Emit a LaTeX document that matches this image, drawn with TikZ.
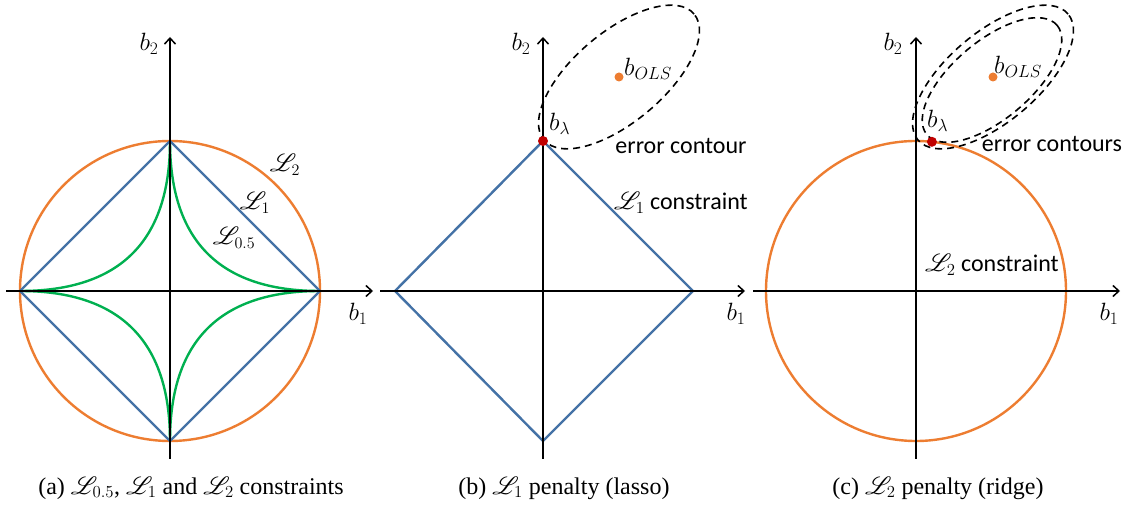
\RequirePackage{fix-cm}
\documentclass[tikz,border=0pt]{standalone}
\usepackage{fontspec}
\setmainfont{Liberation Serif}
\newfontfamily\calib{Carlito}
\usepackage{mathrsfs}
\usetikzlibrary{arrows.meta}
\definecolor{lblue}{RGB}{68,114,166}
\definecolor{lorange}{RGB}{237,125,49}
\definecolor{lgreen}{RGB}{0,176,80}
\definecolor{ldred}{RGB}{192,0,0}
\tikzset{
  axisline/.style={line width=1.7pt, -{Straight Barb[length=6pt,width=11pt,line width=1.5pt]}},
  blueline/.style={draw=lblue, line width=2.4pt, line join=miter},
  orangeline/.style={draw=lorange, line width=2.4pt},
  greenline/.style={draw=lgreen, line width=2.4pt},
  contour/.style={draw=black, line width=1.6pt, dash pattern=on 7pt off 5pt},
  mathlab/.style={inner sep=0pt, font=\fontsize{25}{30}\selectfont},
  scrlab/.style={inner sep=0pt, font=\fontsize{23}{28}\selectfont},
  txtlab/.style={inner sep=0pt, font=\fontsize{24}{28}\selectfont\calib},
  caplab/.style={inner sep=0pt, font=\fontsize{24}{28}\selectfont},
  reddot/.style={fill=ldred, draw=none},
  orangedot/.style={fill=lorange, draw=none}
}
\begin{document}
\begin{tikzpicture}[x=1pt,y=1pt]
\useasboundingbox (0,0) rectangle (1135,506);
% ---------- panel (a)
\coordinate (oa) at (170,215);
\coordinate (ax1) at (6,215); \coordinate (ax2) at (373,215);
\coordinate (ay1) at (170,47); \coordinate (ay2) at (170,469);
\draw[orangeline] (oa) circle [radius=150pt];
\draw[greenline] plot[domain=0:90, samples=120] ({170+150*pow(cos(\x),4)},{215+150*pow(sin(\x),4)});
\draw[greenline] plot[domain=0:90, samples=120] ({170-150*pow(cos(\x),4)},{215+150*pow(sin(\x),4)});
\draw[greenline] plot[domain=0:90, samples=120] ({170-150*pow(cos(\x),4)},{215-150*pow(sin(\x),4)});
\draw[greenline] plot[domain=0:90, samples=120] ({170+150*pow(cos(\x),4)},{215-150*pow(sin(\x),4)});
\draw[blueline] (170,365) -- (320,215) -- (170,65) -- (20,215) -- cycle;
\draw[axisline] (ax1) -- (ax2);
\draw[axisline] (ay1) -- (ay2);
\node[mathlab] (b2a) at (149,462) {$b_2$};
\node[mathlab] (b1a) at (358,192) {$b_1$};
\node[scrlab] (L2a) at (285,341) {$\mathscr{L}_2$};
\node[scrlab] (L1a) at (255,303) {$\mathscr{L}_1$};
\node[scrlab] (L05a) at (234,268) {$\mathscr{L}_{0.5}$};
% ---------- panel (b)
\coordinate (ob) at (543,215);
\coordinate (bx1) at (380,215); \coordinate (bx2) at (745,215);
\coordinate (by1) at (543,47); \coordinate (by2) at (543,469);
\draw[blueline] (543,365) -- (693,215) -- (543,65) -- (395,215) -- cycle;
\draw[axisline] (bx1) -- (bx2);
\draw[axisline] (by1) -- (by2);
\coordinate (olsb) at (619,429);
\draw[contour, rotate around={40:(olsb)}] (olsb) ellipse [x radius=98pt, y radius=45pt];
\fill[orangedot] (olsb) circle [radius=4.5pt];
\fill[reddot] (543,365) circle [radius=5pt];
\node[mathlab] (b2b) at (521,462) {$b_2$};
\node[mathlab] (b1b) at (736,192) {$b_1$};
\node[mathlab, anchor=west] (blb) at (549,382) {$b_\lambda$};
\node[mathlab, anchor=west] (bolsb) at (624,437) {$b_{OLS}$};
\node[txtlab] (errb) at (681,360) {error contour};
\node[txtlab] (conb) at (681,303) {$\mathscr{L}_1$ constraint};
% ---------- panel (c)
\coordinate (oc) at (916,215);
\coordinate (cx1) at (753,215); \coordinate (cx2) at (1120,215);
\coordinate (cy1) at (916,47); \coordinate (cy2) at (916,469);
\draw[orangeline] (oc) circle [radius=150pt];
\draw[axisline] (cx1) -- (cx2);
\draw[axisline] (cy1) -- (cy2);
\coordinate (olsc) at (993,429);
\coordinate (olsc2) at (992,426);
\draw[contour, rotate around={40:(olsc)}] (olsc) ellipse [x radius=98pt, y radius=45pt];
\draw[contour, rotate around={40:(olsc2)}] (olsc2) ellipse [x radius=85pt, y radius=39pt];
\fill[orangedot] (olsc) circle [radius=4.5pt];
\fill[reddot] (931.9,364.2) circle [radius=5pt];
\node[mathlab] (b2c) at (893,462) {$b_2$};
\node[mathlab] (b1c) at (1109,192) {$b_1$};
\node[mathlab, anchor=west] (blc) at (927,385) {$b_\lambda$};
\node[mathlab, anchor=west] (bolsc) at (994,439) {$b_{OLS}$};
\node[txtlab] (errc) at (1052,362) {error contours};
\node[txtlab] (conc) at (992,241) {$\mathscr{L}_2$ constraint};
% ---------- captions
\node[caplab] (capa) at (191,18) {(a) $\mathscr{L}_{0.5}$, $\mathscr{L}_1$ and $\mathscr{L}_2$ constraints};
\node[caplab] (capb) at (564,18) {(b) $\mathscr{L}_1$ penalty (lasso)};
\node[caplab] (capc) at (938,18) {(c) $\mathscr{L}_2$ penalty (ridge)};
\end{tikzpicture}
\end{document}
